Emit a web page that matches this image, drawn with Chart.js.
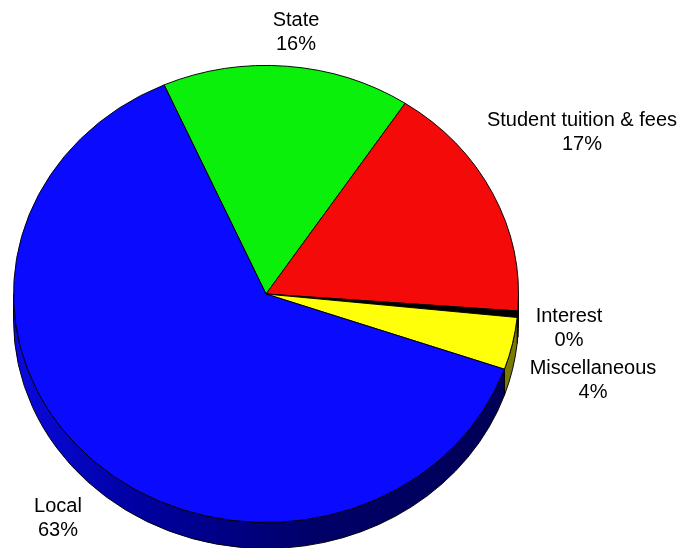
<!DOCTYPE html>
<html>
<head>
<meta charset="utf-8">
<script src="https://cdn.jsdelivr.net/npm/chart.js@4.4.1/dist/chart.umd.min.js"></script>
<style>
  body { margin: 0; background: #fff; }
  #wrap { width: 679px; height: 548px; }
</style>
</head>
<body>
<div id="wrap"><canvas id="pieChart" width="679" height="548"></canvas></div>
<script>
// data (percent of revenue)
const categories = ['State', 'Student tuition & fees', 'Interest', 'Miscellaneous', 'Local'];
const shares = [15.9, 16.9, 0.45, 3.7, 63.05];
const topColors = ['#0af00a', '#f50a0a', '#000000', '#ffff0a', '#0a0aff'];
const sideColors = ['#057805', '#7a0505', '#000000', '#7a7a00', null];

// tilt of the pie: ellipse squash and thickness of the rim
const squash = 229 / 253;
const depth = 26;
const centerY = 294;

// where each label block sits (centre of the two lines)
const labelSpots = [
    { x: 296, y: 32 },
    { x: 582, y: 132 },
    { x: 569, y: 328 },
    { x: 593, y: 380 },
    { x: 58, y: 518 }
];

function sideFill(ctx, i) {
    if (i === 4) {
        // blue rim is lit from the left
        const g = ctx.createLinearGradient(13, 0, 519, 0);
        g.addColorStop(0, '#0a0ae0');
        g.addColorStop(0.25, '#0000a0');
        g.addColorStop(0.6, '#000068');
        g.addColorStop(1, '#000056');
        return g;
    }
    return sideColors[i];
}

const tiltPlugin = {
    id: 'tilt',
    beforeDatasetsDraw(chart) {
        const ctx = chart.ctx;
        const arcs = chart.getDatasetMeta(0).data;
        const cy = arcs[0].y;
        ctx.save();
        ctx.translate(0, centerY);
        ctx.scale(1, squash);
        ctx.translate(0, -cy);

        // rim (only the front half is visible)
        const d = depth / squash;
        arcs.forEach((arc, i) => {
            const s = arc.startAngle, e = arc.endAngle, r = arc.outerRadius;
            [-2 * Math.PI, 0, 2 * Math.PI].forEach(k => {
                const lo = Math.max(s, k), hi = Math.min(e, k + Math.PI);
                if (hi <= lo) return;
                ctx.beginPath();
                ctx.arc(arc.x, arc.y, r, lo, hi);
                ctx.arc(arc.x, arc.y + d, r, hi, lo, true);
                ctx.closePath();
                ctx.fillStyle = sideFill(ctx, i);
                ctx.fill();
                ctx.lineWidth = 1;
                ctx.strokeStyle = '#000';
                ctx.stroke();
            });
        });
    },
    afterDatasetsDraw(chart) {
        chart.ctx.restore();
    },
    afterDraw(chart) {
        const ctx = chart.ctx;
        ctx.save();
        ctx.font = '20px "Liberation Sans", Arial, sans-serif';
        ctx.fillStyle = '#000';
        ctx.textAlign = 'center';
        ctx.textBaseline = 'middle';
        categories.forEach((name, i) => {
            const p = labelSpots[i];
            ctx.fillText(name, p.x, p.y - 12);
            ctx.fillText(Math.round(shares[i]) + '%', p.x, p.y + 12);
        });
        ctx.restore();
    }
};

const ctx = document.getElementById('pieChart').getContext('2d');
const chart = new Chart(ctx, {
    type: 'pie',
    data: {
        labels: categories,
        datasets: [{
            data: shares,
            backgroundColor: topColors,
            borderColor: '#000',
            borderWidth: 1,
            clip: false
        }]
    },
    options: {
        responsive: false,
        animation: false,
        rotation: -23.8,
        layout: { padding: { left: 13, right: 160, top: 0, bottom: 42 } },
        plugins: {
            legend: { display: false },
            tooltip: { enabled: false }
        },
        events: []
    },
    plugins: [tiltPlugin]
});
</script>
</body>
</html>
